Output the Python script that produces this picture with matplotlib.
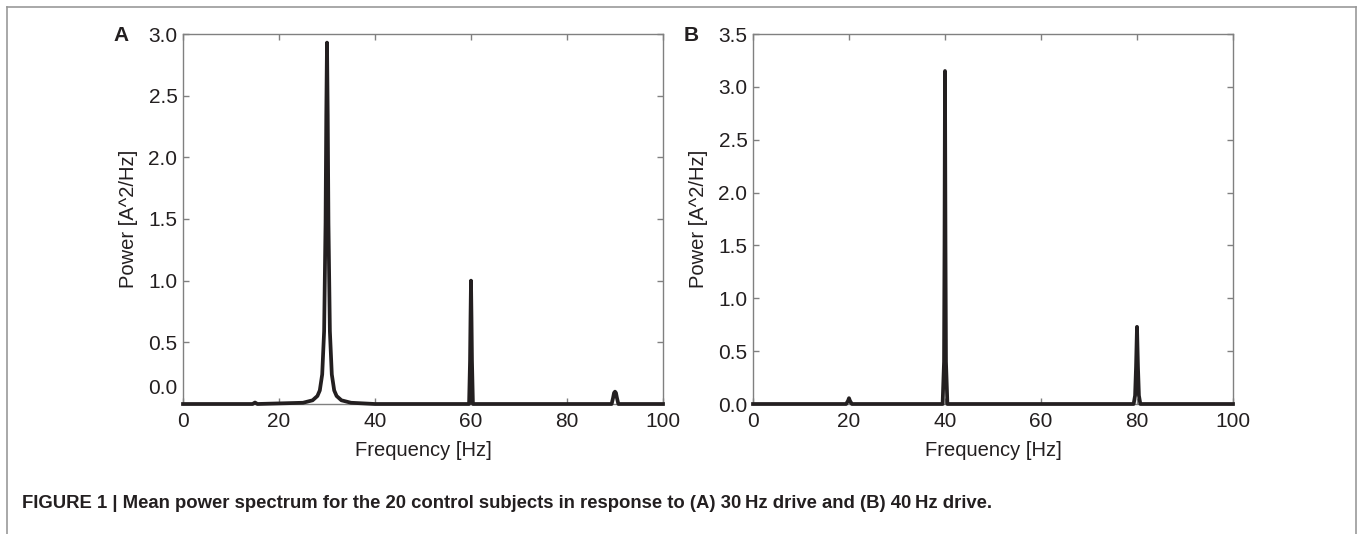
import matplotlib
matplotlib.use('Agg')
import matplotlib.pyplot as plt
from matplotlib.lines import Line2D
from matplotlib.transforms import ScaledTranslation

plt.rcParams['font.family'] = ['Liberation Sans', 'DejaVu Sans']

# panel A: 30 Hz drive
freq_a = [0, 14.5, 15, 15.5, 25, 27, 28, 28.5, 29, 29.4, 29.7, 29.85, 30,
          30.15, 30.3, 30.6, 31, 31.5, 32, 33, 35, 40,
          59.6, 59.8, 59.9, 60, 60.1, 60.2, 60.4,
          89.3, 89.6, 89.8, 90, 90.2, 90.4, 90.7, 100]
power_a = [0.0, 0.0, 0.012, 0.0, 0.01, 0.03, 0.065, 0.11, 0.24, 0.59, 1.47, 2.34, 2.93,
           2.34, 1.47, 0.59, 0.24, 0.11, 0.065, 0.03, 0.01, 0.0,
           0.0, 0.35, 0.7, 1.0, 0.7, 0.35, 0.0,
           0.0, 0.05, 0.09, 0.1, 0.09, 0.05, 0.0, 0.0]

# panel B: 40 Hz drive
freq_b = [0, 19.4, 19.8, 20, 20.2, 20.6, 39.5, 39.8, 39.9, 40, 40.1, 40.2, 40.5,
          79.3, 79.6, 79.8, 80, 80.2, 80.4, 80.7, 100]
power_b = [0.0, 0.0, 0.03, 0.055, 0.03, 0.0, 0.0, 0.4, 1.5, 3.15, 1.5, 0.4, 0.0,
           0.0, 0.08, 0.35, 0.73, 0.35, 0.08, 0.0, 0.0]

xticks = [0, 20, 40, 60, 80, 100]
yticks_a = [0.0, 0.5, 1.0, 1.5, 2.0, 2.5, 3.0]
yticks_b = [0.0, 0.5, 1.0, 1.5, 2.0, 2.5, 3.0, 3.5]

ink = '#231f20'
grey = '#808080'

W, H = 1362, 534
fig = plt.figure(figsize=(W / 100, H / 100), dpi=100)

def px_axes(left, top, right, bottom):
    return fig.add_axes([left / W, 1 - bottom / H, (right - left) / W, (bottom - top) / H])

ax_a = px_axes(183, 34, 663, 404)
ax_b = px_axes(753, 34, 1233, 404)

panels = [(ax_a, freq_a, power_a, yticks_a, 'A'), (ax_b, freq_b, power_b, yticks_b, 'B')]
for ax, f, p, yt, letter in panels:
    ax.plot(f, p, color=ink, lw=2.7, solid_joinstyle='round', clip_on=False, zorder=5)
    ax.set_xlim(0, 100)
    ax.set_ylim(0, yt[-1])
    ax.set_xticks(xticks)
    ax.set_yticks(yt)
    ax.set_yticklabels(['%.1f' % v for v in yt])
    for s in ax.spines.values():
        s.set_color(grey)
        s.set_linewidth(1.0)
    ax.tick_params(direction='in', top=True, right=True, length=4, width=1,
                   color=grey, labelsize=15, labelcolor=ink)
    ax.tick_params(axis='x', pad=6)
    ax.tick_params(axis='y', pad=4)
    ax.set_xlabel('Frequency [Hz]', fontsize=14.5, color=ink, labelpad=7)
    ax.set_ylabel('Power [A^2/Hz]', fontsize=14.5, color=ink, labelpad=7)
    pos = ax.get_position()
    fig.text(pos.x0 - 62 / W, pos.y1 - 2 / H, letter, fontsize=15, fontweight='bold',
             color=ink, ha='center', va='center')

# the 0.0 label in panel A sits a bit above the axis
lab = ax_a.get_yticklabels()[0]
lab.set_transform(lab.get_transform() + ScaledTranslation(0, 17 / 100, fig.dpi_scale_trans))

fig.text(22 / W, 1 - 503 / H,
         'FIGURE 1 | Mean power spectrum for the 20 control subjects in response to '
         '(A) 30\u2009Hz drive and (B) 40\u2009Hz drive.',
         fontsize=13.3, fontweight='bold', color=ink, ha='left', va='center',
         family=['Liberation Sans Narrow', 'Liberation Sans', 'DejaVu Sans'])

# frame around the figure
fx0, fx1, fy0 = 7 / W, 1356 / W, 1 - 7 / H
for xs, ys in [([fx0, fx1], [fy0, fy0]), ([fx0, fx0], [fy0, 0]), ([fx1, fx1], [fy0, 0])]:
    fig.add_artist(Line2D(xs, ys, color='#999999', lw=1.2, transform=fig.transFigure))

fig.savefig('out.png', dpi=100)
